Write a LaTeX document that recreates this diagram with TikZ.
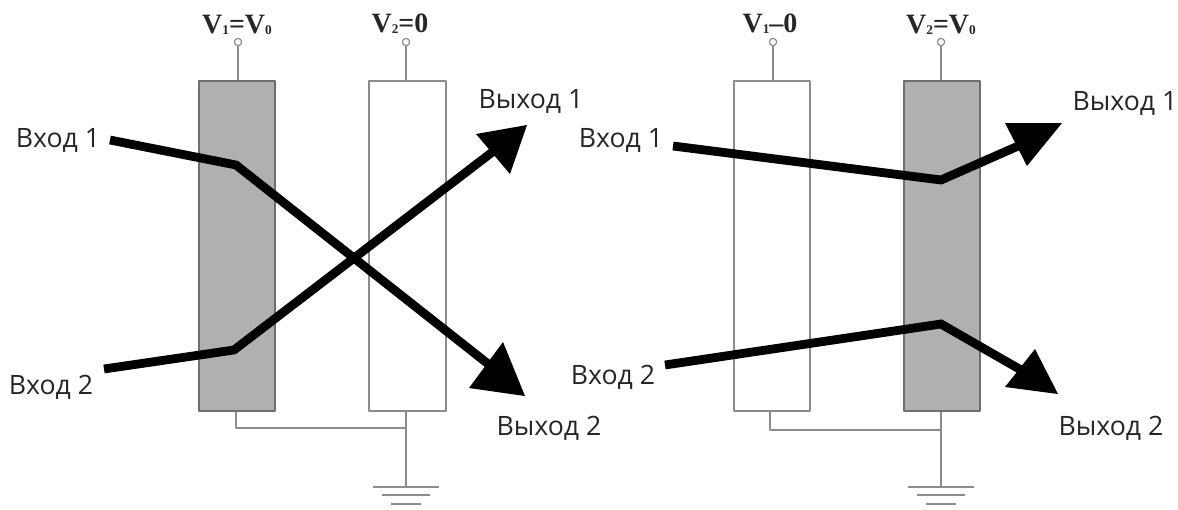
\documentclass[tikz,border=0pt]{standalone}
\usetikzlibrary{calc}
\usepackage{fontspec}
\setmainfont{Open Sans}
\newfontfamily\vfont{Liberation Serif}
\definecolor{wire}{RGB}{140,140,140}
\definecolor{plategray}{RGB}{176,176,176}
\definecolor{plateedge}{RGB}{110,110,110}
\newcommand{\vsub}[1]{\raisebox{-1pt}{\fontsize{10}{10}\selectfont #1}}
\begin{document}
\begin{tikzpicture}[x=0.75pt,y=-0.75pt,line join=round,
  plateon/.style={draw=plateedge,fill=plategray,line width=1.5pt,minimum width=76.5*0.75pt,minimum height=330*0.75pt,inner sep=0pt},
  plateoff/.style={draw=wire,fill=white,line width=1.5pt,minimum width=76.5*0.75pt,minimum height=330*0.75pt,inner sep=0pt},
  wirel/.style={draw=wire,line width=1.1pt},
  term/.style={circle,draw=wire,fill=white,line width=0.9pt,minimum size=5.5pt,inner sep=0pt},
  beam/.style={draw=black,line width=6.6pt,line join=miter},
  tip/.style={fill=black,draw=none},
  lab/.style={font=\fontsize{20}{22}\selectfont,text=black!85,inner sep=0pt},
  vlab/.style={font=\vfont\bfseries\fontsize{21}{23}\selectfont,text=black!85,inner sep=0pt}]
\useasboundingbox (0,0) rectangle (1178,510);
% plates
\node[plateon]  (a1) at (237,246) {};
\node[plateoff] (a2) at (407.5,246) {};
\node[plateoff] (b1) at (772,246) {};
\node[plateon]  (b2) at (942,246) {};
% terminals
\node[term] (ta1) at (238,42) {};
\node[term] (ta2) at (406,42) {};
\node[term] (tb1) at (773,42) {};
\node[term] (tb2) at (941,42) {};
\draw[wirel] (ta1) -- (ta1 |- a1.north);
\draw[wirel] (ta2) -- (ta2 |- a2.north);
\draw[wirel] (tb1) -- (tb1 |- b1.north);
\draw[wirel] (tb2) -- (tb2 |- b2.north);
% voltage labels
\node[vlab] (va1) at (237,25) {V\vsub{1}=V\vsub{0}};
\node[vlab] (va2) at (400,24) {V\vsub{2}=0};
\node[vlab] (vb1) at (770,24) {V\vsub{1}–0};
\node[vlab] (vb2) at (941,25) {V\vsub{2}=V\vsub{0}};
% ground wiring
\coordinate (ja) at (406,428);
\coordinate (jb) at (941,430);
\coordinate (ga) at (406,487);
\coordinate (gb) at (941,487);
\coordinate (fa) at (236,412);
\coordinate (fb) at (770,412);
\draw[wirel] (fa) |- (ja);
\draw[wirel] (a2.south -| ja) -- (ga);
\draw[wirel] (fb) |- (jb);
\draw[wirel] (b2.south -| jb) -- (gb);
\foreach \g in {ga,gb}{
  \draw[wirel] ($(\g)+(-33,0)$) -- ($(\g)+(33,0)$);
  \draw[wirel] ($(\g)+(-24,8)$) -- ($(\g)+(24,8)$);
  \draw[wirel] ($(\g)+(-15,17)$) -- ($(\g)+(15,17)$);
}
% beams left
\coordinate (i1) at (110,140);
\coordinate (k1) at (236,165);
\coordinate (o1) at (492,367);
\coordinate (i2) at (104,369);
\coordinate (k2) at (234,350);
\coordinate (o2) at (495,150);
\draw[beam] (i1) -- (k1) -- (o1);
\draw[beam] (i2) -- (k2) -- (o2);
\fill[tip] (525,396) -- (503,342) -- (469,388) -- cycle;
\fill[tip] (527,125) -- (476,134) -- (510,174) -- cycle;
% beams right
\coordinate (i3) at (673,146);
\coordinate (k3) at (941,180);
\coordinate (o3) at (1025,143);
\coordinate (i4) at (665,365);
\coordinate (k4) at (941,324);
\coordinate (o4) at (1028,374);
\draw[beam] (i3) -- (k3) -- (o3);
\draw[beam] (i4) -- (k4) -- (o4);
\fill[tip] (1062,123) -- (1005,123) -- (1027,166) -- cycle;
\fill[tip] (1058,394) -- (1035,349) -- (1005,387) -- cycle;
% labels
\node[lab] (l1) at (58,140) {Вход 1};
\node[lab] (l2) at (51,387) {Вход 2};
\node[lab] (l3) at (531,101) {Выход 1};
\node[lab] (l4) at (549,428) {Выход 2};
\node[lab] (l5) at (621,140) {Вход 1};
\node[lab] (l6) at (613,377) {Вход 2};
\node[lab] (l7) at (1125,103) {Выход 1};
\node[lab] (l8) at (1111,428) {Выход 2};
\end{tikzpicture}
\end{document}
